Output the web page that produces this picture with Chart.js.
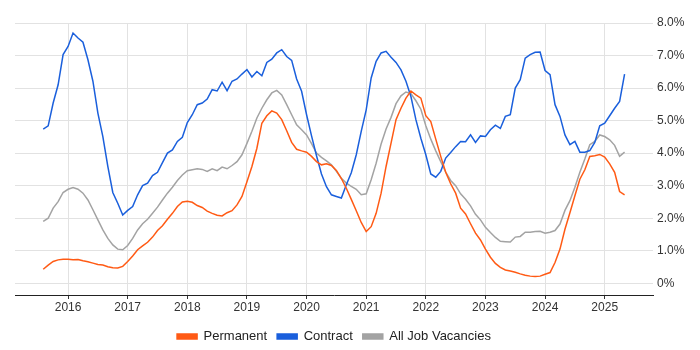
<!DOCTYPE HTML>
<html>

<head>
  <meta charset="utf-8" />
  <script src="https://cdn.jsdelivr.net/npm/chart.js@4.4.1/dist/chart.umd.min.js"></script>
  <style>
    body {
      margin: 0;
      background: #fff;
    }

    .chart-box {
      width: 700px;
      height: 350px;
    }
  </style>
</head>

<body>
  <div class="chart-box"><canvas id="chart-trend"></canvas></div>
</body>
<script>
  // monthly series, first point Aug 2015, last point May 2025
  var startYear = 2015;
  var startMonth = 8;

  var permanent = [
    0.43, 0.56, 0.67, 0.72, 0.74,
    0.74, 0.72, 0.73, 0.69, 0.66, 0.62, 0.58, 0.56, 0.51, 0.48, 0.47, 0.52,
    0.67, 0.84, 1.03, 1.15, 1.26, 1.42, 1.62, 1.77, 1.97, 2.15, 2.36, 2.50,
    2.52, 2.49, 2.39, 2.33, 2.22, 2.15, 2.09, 2.07, 2.17, 2.23, 2.41, 2.67,
    3.12, 3.59, 4.15, 4.92, 5.15, 5.30, 5.23, 5.03, 4.69, 4.33, 4.12, 4.07,
    4.03, 3.90, 3.74, 3.64, 3.67, 3.62, 3.47, 3.22, 2.92, 2.58, 2.23, 1.87,
    1.59, 1.74, 2.15, 2.77, 3.59, 4.31, 5.03, 5.38, 5.69, 5.91, 5.79, 5.69,
    5.15, 4.97, 4.43, 3.90, 3.41, 3.06, 2.77, 2.31, 2.13, 1.83, 1.54, 1.33,
    1.05, 0.80, 0.61, 0.49, 0.41, 0.38, 0.34, 0.29, 0.25, 0.22, 0.21, 0.22,
    0.28, 0.33, 0.64, 1.05, 1.66, 2.17, 2.69, 3.20, 3.49, 3.90, 3.92, 3.96,
    3.88, 3.67, 3.41, 2.82, 2.72
  ];

  var contract = [
    4.74, 4.84, 5.54, 6.10, 7.03,
    7.28, 7.69, 7.54, 7.41, 6.87, 6.21, 5.23, 4.51, 3.59, 2.79, 2.46, 2.10,
    2.24, 2.36, 2.72, 3.00, 3.08, 3.31, 3.41, 3.71, 4.00, 4.10, 4.36, 4.49,
    4.94, 5.18, 5.49, 5.54, 5.66, 5.95, 5.91, 6.18, 5.92, 6.21, 6.28, 6.43,
    6.57, 6.34, 6.51, 6.38, 6.79, 6.89, 7.08, 7.18, 6.97, 6.85, 6.28, 5.90,
    5.18, 4.53, 3.92, 3.36, 2.97, 2.72, 2.67, 2.62, 3.03, 3.40, 3.95, 4.67,
    5.33, 6.31, 6.82, 7.08, 7.13, 6.95, 6.79, 6.56, 6.21, 5.74, 5.03, 4.46,
    3.95, 3.36, 3.26, 3.44, 3.85, 4.02, 4.20, 4.36, 4.35, 4.56, 4.33, 4.53,
    4.51, 4.72, 4.86, 4.76, 5.13, 5.18, 6.00, 6.26, 6.92, 7.03, 7.10, 7.11,
    6.54, 6.41, 5.49, 5.13, 4.56, 4.26, 4.36, 4.03, 4.03, 4.08, 4.33, 4.84,
    4.92, 5.15, 5.38, 5.59, 6.43
  ];

  var allJobs = [
    1.90, 2.00, 2.31, 2.51, 2.79,
    2.89, 2.94, 2.89, 2.77, 2.56, 2.26, 1.95, 1.64, 1.38, 1.18, 1.05, 1.03,
    1.16, 1.38, 1.64, 1.83, 1.97, 2.15, 2.34, 2.56, 2.77, 2.95, 3.16, 3.33,
    3.46, 3.49, 3.52, 3.50, 3.44, 3.52, 3.46, 3.57, 3.52, 3.62, 3.74, 3.95,
    4.30, 4.67, 5.08, 5.38, 5.64, 5.85, 5.93, 5.79, 5.49, 5.18, 4.87, 4.72,
    4.56, 4.29, 4.00, 3.87, 3.76, 3.64, 3.44, 3.23, 3.08, 2.98, 2.89, 2.72,
    2.75, 3.18, 3.69, 4.28, 4.74, 5.10, 5.52, 5.76, 5.88, 5.83, 5.61, 5.35,
    4.84, 4.43, 4.07, 3.74, 3.42, 3.16, 3.00, 2.75, 2.58, 2.38, 2.12, 1.95,
    1.72, 1.56, 1.41, 1.29, 1.28, 1.27, 1.42, 1.44, 1.57, 1.57, 1.59, 1.60,
    1.54, 1.57, 1.62, 1.82, 2.24, 2.54, 2.95, 3.41, 3.82, 4.26, 4.36, 4.56,
    4.51, 4.41, 4.24, 3.90, 4.03
  ];

  var yearTicks = [2016, 2017, 2018, 2019, 2020, 2021, 2022, 2023, 2024, 2025];
  var pctTicks = [0, 1, 2, 3, 4, 5, 6, 7, 8];

  Chart.defaults.font.family = "'Liberation Sans', Arial, sans-serif";
  Chart.defaults.color = '#333';

  function toPoints(values) {
    return values.map(function (v, i) {
      var m = startMonth - 1 + i;
      return { x: startYear + Math.floor(m / 12) + (m % 12) / 12, y: v };
    });
  }

  function makeSet(label, values, colour) {
    return {
      label: label,
      data: toPoints(values),
      borderColor: colour,
      backgroundColor: colour,
      borderWidth: 1.5,
      pointRadius: 0,
      tension: 0,
      fill: false
    };
  }

  // centre the legend under the plot area instead of the whole canvas
  var legendUnderPlot = {
    id: 'legendUnderPlot',
    afterLayout: function (chart) {
      var lg = chart.legend;
      if (!lg) return;
      lg.left = chart.chartArea.left;
      lg.right = chart.chartArea.right;
      lg.top += 3;
      lg.bottom += 3;
    }
  };

  var ctx = document.getElementById('chart-trend');
  var chart = new Chart(ctx, {
    type: 'line',
    data: {
      datasets: [
        makeSet('Permanent', permanent, '#ff5a14'),
        makeSet('Contract', contract, '#1a5fdc'),
        makeSet('All Job Vacancies', allJobs, '#a3a3a3')
      ]
    },
    plugins: [legendUnderPlot],
    options: {
      responsive: true,
      maintainAspectRatio: false,
      animation: false,
      layout: {
        padding: { top: 23, left: 15, right: 0, bottom: 0 }
      },
      scales: {
        x: {
          type: 'linear',
          min: 2015.11,
          max: 2025.81,
          afterBuildTicks: function (scale) {
            scale.ticks = yearTicks.map(function (v) { return { value: v }; });
          },
          afterFit: function (scale) {
            scale.height = 22;
          },
          ticks: {
            padding: 1,
            maxRotation: 0,
            font: { size: 12 },
            callback: function (v) { return String(v); }
          },
          grid: {
            color: '#e2e2e2',
            tickColor: '#333',
            tickLength: 4
          },
          border: { color: '#222', width: 1 }
        },
        y: {
          position: 'right',
          min: -0.36,
          max: 8,
          afterBuildTicks: function (scale) {
            scale.ticks = pctTicks.map(function (v) { return { value: v }; });
          },
          afterFit: function (scale) {
            scale.width = 47;
          },
          ticks: {
            padding: 4,
            font: { size: 12 },
            callback: function (v) { return v === 0 ? '0%' : v.toFixed(1) + '%'; }
          },
          grid: {
            color: '#e2e2e2',
            drawTicks: false
          },
          border: { display: false }
        }
      },
      plugins: {
        legend: {
          position: 'bottom',
          labels: {
            boxWidth: 20,
            boxHeight: 5,
            padding: 10,
            font: { size: 13 },
            color: '#222'
          }
        },
        tooltip: { enabled: false }
      }
    }
  });
</script>

</html>
